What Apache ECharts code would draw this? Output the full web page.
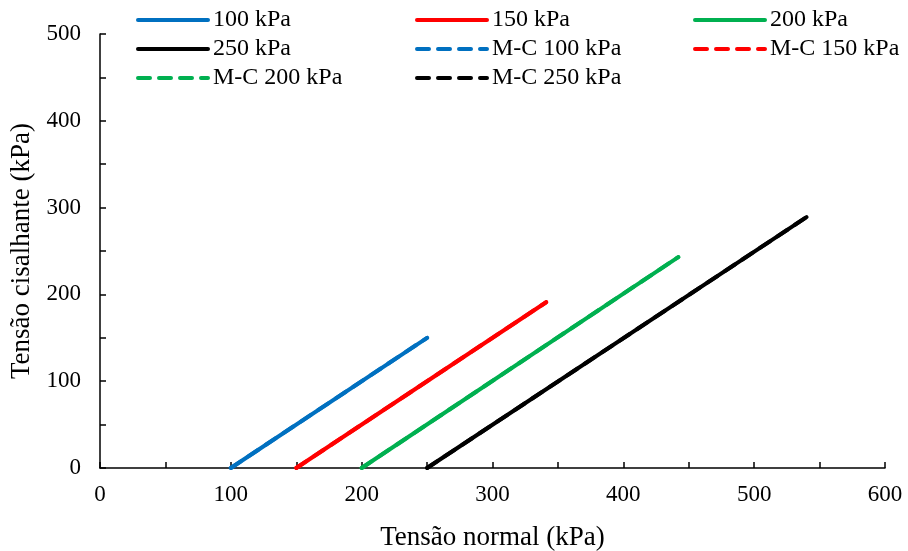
<!DOCTYPE html>
<html>
<head>
<meta charset="utf-8">
<script src="https://cdn.jsdelivr.net/npm/echarts@6/dist/echarts.min.js"></script>
<style>html,body{margin:0;padding:0;background:#fff}#c{width:908px;height:551px}</style>
</head>
<body>
<div id="c"></div>
<script>
var seriesNames = ['100 kPa', '150 kPa', '200 kPa', '250 kPa'];
var mcNames = ['M-C 100 kPa', 'M-C 150 kPa', 'M-C 200 kPa', 'M-C 250 kPa'];
var colors = ['#0070C0', '#FF0000', '#00B050', '#000000'];
var path100 = [[100, 0], [250, 150]];
var path150 = [[150, 0], [341, 191]];
var path200 = [[200, 0], [442, 243]];
var path250 = [[250, 0], [540, 289]];
var mc100 = [[100, 0], [250, 150]];
var mc150 = [[150, 0], [341, 191]];
var mc200 = [[200, 0], [442, 243]];
var mc250 = [[250, 0], [540, 289]];
var xTitle = 'Tensão normal (kPa)';
var yTitle = 'Tensão cisalhante (kPa)';

var paths = [path100, path150, path200, path250];
var mcs = [mc100, mc150, mc200, mc250];
var font = 'Liberation Serif';

var series = [];
mcs.forEach(function (d, i) {
  series.push({
    name: mcNames[i], type: 'line', data: d, symbol: 'none', z: 2,
    lineStyle: { color: colors[i], width: 4, type: [12, 9], cap: 'round' },
    itemStyle: { color: colors[i] }
  });
});
paths.forEach(function (d, i) {
  series.push({
    name: seriesNames[i], type: 'line', data: d, symbol: 'none', z: 3,
    lineStyle: { color: colors[i], width: 4, cap: 'round' },
    itemStyle: { color: colors[i] }
  });
});

function legend(left, data) {
  return {
    left: left, top: 8, orient: 'vertical', itemGap: 5, padding: 0,
    itemWidth: 70, itemHeight: 14, data: data, selectedMode: false,
    itemStyle: { opacity: 0 },
    lineStyle: { width: 4 },
    textStyle: { fontFamily: font, fontSize: 24, lineHeight: 24, color: '#000', padding: [0, 0, 0, 0] }
  };
}

var chart = echarts.init(document.getElementById('c'));
chart.setOption({
  animation: false,
  backgroundColor: '#fff',
  grid: { left: 100, right: 23, top: 34, bottom: 83, outerBoundsMode: 'none', containLabel: false },
  legend: [
    legend(136, [seriesNames[0], seriesNames[3], mcNames[2]]),
    legend(415, [seriesNames[1], mcNames[0], mcNames[3]]),
    legend(693, [seriesNames[2], mcNames[1]])
  ],
  xAxis: {
    type: 'value', min: 0, max: 600, interval: 100,
    name: xTitle, nameLocation: 'middle', nameGap: 56,
    nameTextStyle: { fontFamily: font, fontSize: 27, color: '#000' },
    axisLine: { show: true, lineStyle: { color: '#000', width: 1.5 } },
    axisTick: { show: true, inside: true, length: 6, lineStyle: { color: '#000', width: 1.5 } },
    minorTick: { show: true, splitNumber: 2, length: 6, lineStyle: { color: '#000', width: 1.5 } },
    axisLabel: { fontFamily: font, fontSize: 23, color: '#000', margin: 15 },
    splitLine: { show: false }
  },
  yAxis: {
    type: 'value', min: 0, max: 500, interval: 100,
    name: yTitle, nameLocation: 'middle', nameGap: 64, nameRotate: 90,
    nameTextStyle: { fontFamily: font, fontSize: 27, color: '#000' },
    axisLine: { show: true, lineStyle: { color: '#000', width: 1.5 } },
    axisTick: { show: true, inside: true, length: 6, lineStyle: { color: '#000', width: 1.5 } },
    minorTick: { show: true, splitNumber: 2, length: 6, lineStyle: { color: '#000', width: 1.5 } },
    axisLabel: { fontFamily: font, fontSize: 23, color: '#000', margin: 19 },
    splitLine: { show: false }
  },
  series: series
});
</script>
</body>
</html>
